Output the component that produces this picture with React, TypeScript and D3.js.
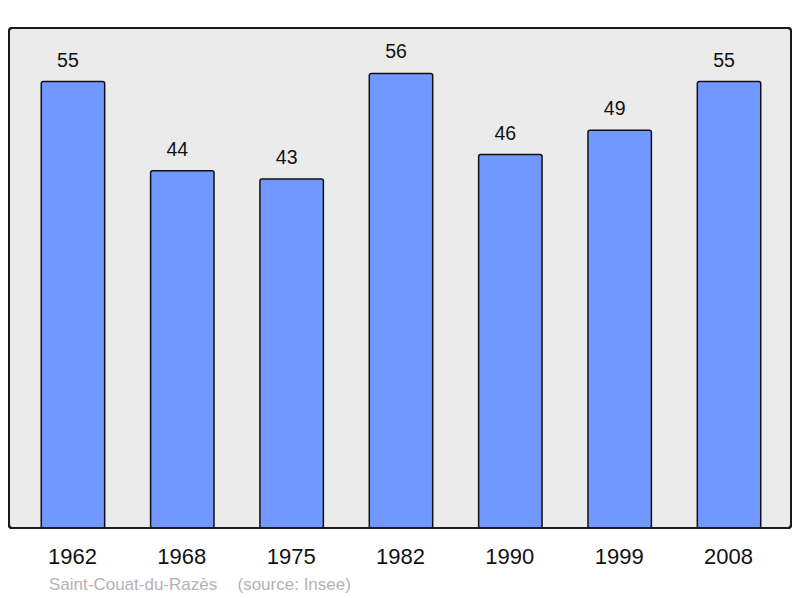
import React from "react";
import * as d3 from "d3";

const years = ["1962", "1968", "1975", "1982", "1990", "1999", "2008"];
const population = [55, 44, 43, 56, 46, 49, 55];
const sourceLabel = "Saint-Couat-du-Razès";
const sourceNote = "(source: Insee)";

export default function App() {
  const W = 800, H = 598;
  const frame = { x: 9, y: 28, w: 782, h: 500 };
  const x = d3.scaleBand<string>().domain(years).range([18.3, 783.7]).paddingInner(0.42).paddingOuter(0.21);
  const y = d3.scaleLinear().domain([0, 61.6]).range([528, 28]);
  const font = "'Liberation Sans', Arial, sans-serif";
  return (
    <svg width={W} height={H} style={{ position: "absolute", left: 0, top: 0 }} fontFamily={font}>
      <rect x={0} y={0} width={W} height={H} fill="#ffffff" />
      <rect x={frame.x} y={frame.y} width={frame.w} height={frame.h} rx={3} fill="#ebebeb" stroke="#1a1a1a" strokeWidth={2} />
      {years.map((yr, i) => {
        const v = population[i];
        const bx = x(yr)!;
        const bw = x.bandwidth();
        return (
          <g key={yr}>
            <rect x={bx} y={y(v)} width={bw} height={y(0) - y(v)} rx={2} fill="#7098ff" stroke="#111" strokeWidth={1.5} />
            <text x={bx + bw / 2 - 5} y={y(v) - 15} textAnchor="middle" fontSize={19.5} fill="#111">{v}</text>
            <text x={bx + bw / 2 - 0.5} y={563.5} textAnchor="middle" fontSize={22} fill="#111">{yr}</text>
          </g>
        );
      })}
      <rect x={frame.x} y={frame.y} width={frame.w} height={frame.h} rx={3} fill="none" stroke="#1a1a1a" strokeWidth={2} />
      <text x={49} y={590} fontSize={17} fill="#b3b3b3">{sourceLabel}</text>
      <text x={237.5} y={590} fontSize={17} fill="#b3b3b3">{sourceNote}</text>
    </svg>
  );
}
